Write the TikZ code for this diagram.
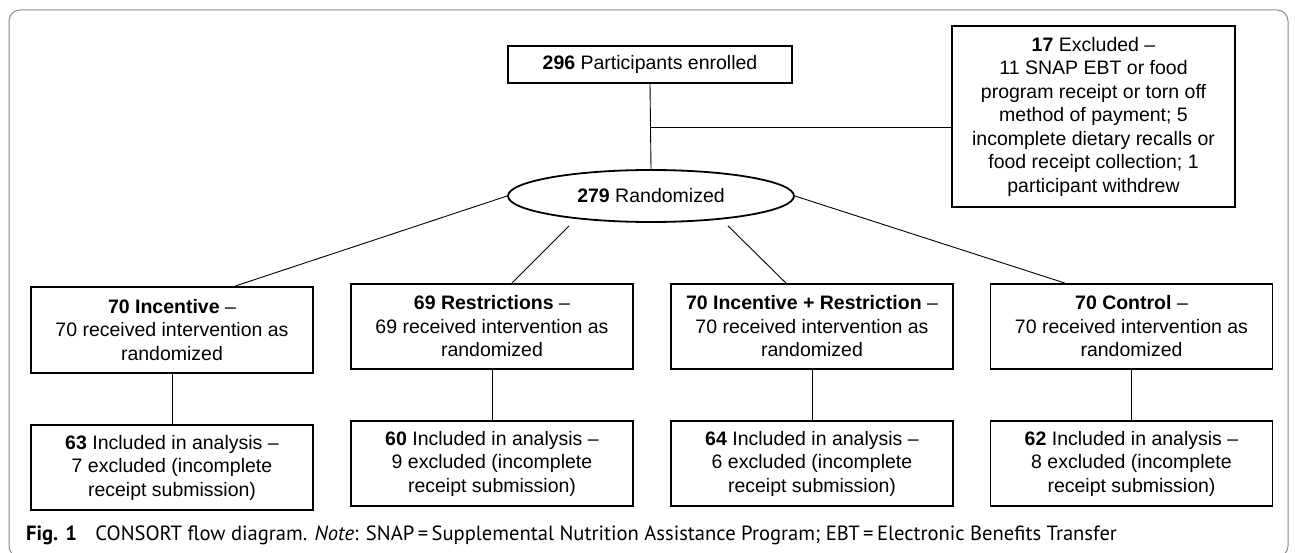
\documentclass[tikz,border=0pt]{standalone}
\usepackage{fontspec}
\setmainfont{Liberation Sans}
\newfontfamily\capfont{PT Sans}
\usetikzlibrary{shapes.geometric,calc}
\begin{document}
\begin{tikzpicture}[x=1pt,y=-1pt,
  box/.style={draw,line width=1.8pt,inner sep=0pt,align=center,
    font=\fontsize{19.5}{23.5}\selectfont,minimum width=282pt},
  conn/.style={line width=0.9pt},
  frame/.style={draw=black!45,line width=1pt,rounded corners=11pt}]
\useasboundingbox (0,0) rectangle (1295,553);
\draw[frame] (9,10) rectangle (1288,557);

\node[box,minimum width=284pt,minimum height=37pt] (enr) at (650,64.5)
  {\textbf{296} Participants enrolled};
\node[box,minimum width=283pt,minimum height=181pt] (exc) at (1093.5,116.5)
  {\textbf{17} Excluded --\\11 SNAP EBT or food\\program receipt or torn off\\method of payment; 5\\incomplete dietary recalls or\\food receipt collection; 1\\participant withdrew};
\node[box,ellipse,minimum width=286pt,minimum height=52pt] (rand) at (651,196)
  {\textbf{279} Randomized};

\node[box,minimum height=86pt] (b1) at (172,330)
  {\textbf{70 Incentive} --\\70 received intervention as\\randomized};
\node[box,minimum height=85pt] (b2) at (492,326.5)
  {\textbf{69 Restrictions} --\\69 received intervention as\\randomized};
\node[box,minimum height=85pt] (b3) at (812,326.5)
  {\textbf{70 Incentive + Restriction} --\\70 received intervention as\\randomized};
\node[box,minimum height=85pt] (b4) at (1131.5,326.5)
  {\textbf{70 Control} --\\70 received intervention as\\randomized};

\node[box,minimum height=85pt] (c1) at (172,467.5)
  {\textbf{63} Included in analysis --\\7 excluded (incomplete\\receipt submission)};
\node[box,minimum height=85pt] (c2) at (492,463.5)
  {\textbf{60} Included in analysis --\\9 excluded (incomplete\\receipt submission)};
\node[box,minimum height=85pt] (c3) at (812,463.5)
  {\textbf{64} Included in analysis --\\6 excluded (incomplete\\receipt submission)};
\node[box,minimum height=85pt] (c4) at (1131.5,463.5)
  {\textbf{62} Included in analysis --\\8 excluded (incomplete\\receipt submission)};

\draw[conn] (enr.south) -- (rand.north);
\coordinate (j) at (650,127);
\draw[conn] (j) -- (j -| exc.west);

\draw[conn] (rand.west) -- ($(b1.north)+(63,0)$);
\draw[conn] ($(rand.south)+(-82,3)$) -- ($(b2.north)+(20,0)$);
\draw[conn] ($(rand.south)+(77,3)$) -- ($(b3.north)+(-26,0)$);
\draw[conn] (rand.east) -- ($(b4.north)+(-66.5,0)$);

\foreach \i in {1,2,3,4} \draw[conn] (b\i.south) -- (c\i.north);

\node[anchor=base west,inner sep=0pt,font=\capfont\fontsize{20.6}{24}\selectfont] (cap) at (26,540)
  {\textbf{Fig. 1}\hspace{0.9em}CONSORT flow diagram. \textit{Note}: SNAP\,=\,Supplemental Nutrition Assistance Program; EBT\,=\,Electronic Benefits Transfer};
\end{tikzpicture}
\end{document}
